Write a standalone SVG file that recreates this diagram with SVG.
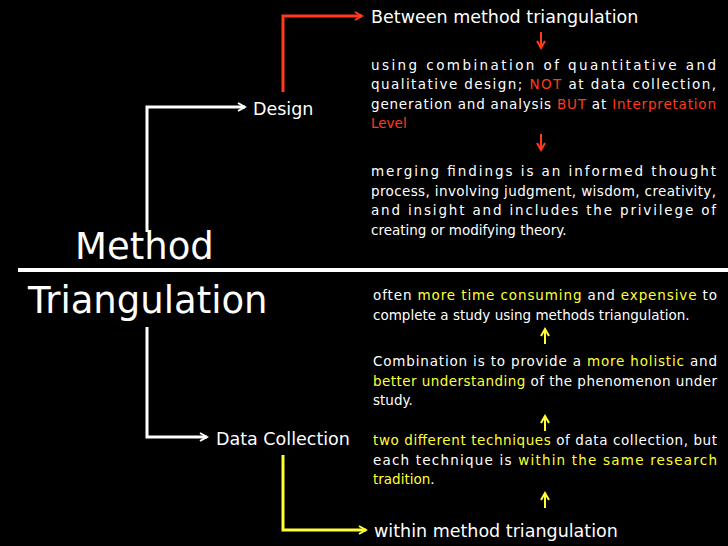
<svg xmlns="http://www.w3.org/2000/svg" width="728" height="546" viewBox="0 0 728 546">
<style>
text{font-family:"DejaVu Sans","Liberation Sans",sans-serif;fill:#fff}
.b{font-size:13.5px}
.l{font-size:17.5px}
.r{fill:#ff3b1a}.y{fill:#ffff33}
.c{fill:none;stroke-width:3}
.h{fill:none;stroke-width:2}
</style>
<defs>
<marker id="mw" markerWidth="10" markerHeight="10" refX="8" refY="5" orient="auto" markerUnits="userSpaceOnUse"><path d="M1,1 L8,5 L1,9" fill="none" stroke="#fff" stroke-width="2"/></marker>
<marker id="mr" markerWidth="10" markerHeight="10" refX="8" refY="5" orient="auto" markerUnits="userSpaceOnUse"><path d="M1,1 L8,5 L1,9" fill="none" stroke="#ff3b1a" stroke-width="2"/></marker>
<marker id="my" markerWidth="10" markerHeight="10" refX="8" refY="5" orient="auto" markerUnits="userSpaceOnUse"><path d="M1,1 L8,5 L1,9" fill="none" stroke="#ffff33" stroke-width="2"/></marker>
</defs>
<rect width="728" height="546" fill="#000"/>
<g id="connectors">
<path class="c" stroke="#ff3b1a" d="M283,92 V16 H362" marker-end="url(#mr)"/>
<path class="c" stroke="#fff" d="M147,232 V107 H245" marker-end="url(#mw)"/>
<path class="c" stroke="#fff" d="M147,327 V437 H207" marker-end="url(#mw)"/>
<path class="c" stroke="#ffff33" d="M283,455 V530 H366" marker-end="url(#my)"/>
<line x1="18" y1="270" x2="728" y2="270" stroke="#fff" stroke-width="4"/>
<path class="h" stroke="#ff3b1a" d="M541,32 V48" marker-end="url(#mr)"/>
<path class="h" stroke="#ff3b1a" d="M541,134 V150" marker-end="url(#mr)"/>
<path class="h" stroke="#ffff33" d="M545,344 V329" marker-end="url(#my)"/>
<path class="h" stroke="#ffff33" d="M545,431 V416" marker-end="url(#my)"/>
<path class="h" stroke="#ffff33" d="M545,508 V493" marker-end="url(#my)"/>
</g>
<g id="title"><text x="75" y="259" style="font-size:37px">Method</text><text x="28" y="313" style="font-size:37px">Triangulation</text></g>
<g id="design"><text class="l" x="253" y="115">Design</text></g>
<g id="datacollection"><text class="l" x="216" y="445">Data Collection</text></g>
<g id="between"><text class="l" x="371" y="23">Between method triangulation</text></g>
<g id="within"><text class="l" x="374" y="537">within method triangulation</text></g>
<g id="block1" class="b">
<text x="371" y="70" textLength="345" lengthAdjust="spacing">using combination of quantitative and</text>
<text x="371" y="89" textLength="345" lengthAdjust="spacing">qualitative design; <tspan class="r">NOT</tspan> at data collection,</text>
<text x="371" y="109" textLength="345" lengthAdjust="spacing">generation and analysis <tspan class="r">BUT</tspan> at <tspan class="r">Interpretation</tspan></text>
<text x="371" y="128" class="r">Level</text>
</g>
<g id="block2" class="b">
<text x="371" y="176" textLength="345" lengthAdjust="spacing">merging findings is an informed thought</text>
<text x="371" y="196" textLength="345" lengthAdjust="spacing">process, involving judgment, wisdom, creativity,</text>
<text x="371" y="215" textLength="345" lengthAdjust="spacing">and insight and includes the privilege of</text>
<text x="371" y="235">creating or modifying theory.</text>
</g>
<g id="block3" class="b">
<text x="373" y="300" textLength="344" lengthAdjust="spacing">often <tspan class="y">more time consuming</tspan> and <tspan class="y">expensive</tspan> to</text>
<text x="373" y="320">complete a study using methods triangulation.</text>
</g>
<g id="block4" class="b">
<text x="373" y="366" textLength="344" lengthAdjust="spacing">Combination is to provide a <tspan class="y">more holistic</tspan> and</text>
<text x="373" y="386" textLength="344" lengthAdjust="spacing"><tspan class="y">better understanding</tspan> of the phenomenon under</text>
<text x="373" y="405">study.</text>
</g>
<g id="block5" class="b">
<text x="373" y="445" textLength="344" lengthAdjust="spacing"><tspan class="y">two different techniques</tspan> of data collection, but</text>
<text x="373" y="465" textLength="344" lengthAdjust="spacing">each technique is <tspan class="y">within the same research</tspan></text>
<text x="373" y="484" class="y">tradition<tspan style="fill:#fff">.</tspan></text>
</g>
</svg>
